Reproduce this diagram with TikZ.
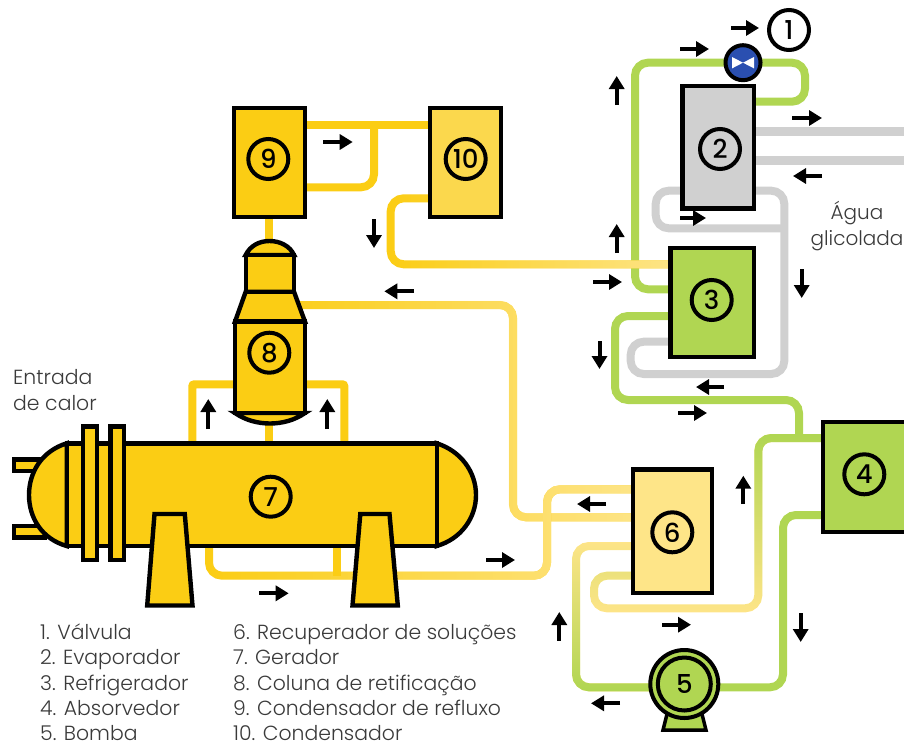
\documentclass[tikz,border=0pt]{standalone}
\usepackage{fontspec}
\setmainfont{Poppins}
\newfontfamily\thinfont{Poppins Light}
\newfontfamily\numfont{Poppins Medium}
\usetikzlibrary{arrows.meta, positioning, calc, fadings}
\definecolor{yelA}{HTML}{FBCD14}
\definecolor{yelB}{HTML}{FBD84D}
\definecolor{yelC}{HTML}{FEE588}
\definecolor{leaf}{HTML}{B0D652}
\definecolor{ash}{HTML}{D0D0D0}
\definecolor{valveblue}{HTML}{2A4FB0}
\definecolor{inkgrey}{HTML}{3A3A3A}
\pgfdeclarelayer{pipes}
\pgfsetlayers{pipes,main}
\tikzset{
  unit/.style={draw=black, line width=4.4pt, inner sep=0pt, outer sep=0pt},
  shell/.style={draw=black, line width=4.4pt, fill=yelA, line join=miter},
  num/.style={circle, draw=black, line width=4pt, minimum size=40pt, inner sep=0pt,
    outer sep=0pt, font=\numfont\fontsize{26}{26}\selectfont},
  pipe/.style={line width=8pt, rounded corners=13pt},
  flow/.style={-{Triangle[length=13pt,width=15pt]}, line width=4pt, black},
  legend/.style={anchor=base west, inner sep=0pt, text=inkgrey, text depth=0pt,
    font=\thinfont\fontsize{20.4}{26}\selectfont},
}

\begin{document}
\begin{tikzpicture}[x=1pt, y=-1pt]
  \useasboundingbox (0,0) rectangle (904,744);

  % Boxes
  \node[unit, fill=ash, minimum width=71.4pt, minimum height=122.7pt] (box2) at (718,147.3) {};
  \node[unit, fill=leaf, minimum width=83.4pt, minimum height=109pt] (box3) at (712,302.5) {};
  \node[unit, fill=leaf, minimum width=97pt, minimum height=110pt] (box4) at (871.5,477) {};
  \node[unit, fill=yelC, minimum width=79pt, minimum height=123.3pt] (box6) at (672.5,531.3) {};
  \node[unit, fill=yelA, minimum width=71pt, minimum height=109pt] (box9) at (269.5,162.5) {};
  \node[unit, fill=yelB, minimum width=71pt, minimum height=109pt] (box10) at (465.5,162.5) {};

  % Valve
  \node[circle, draw=black, line width=4pt, fill=valveblue, minimum size=35pt,
    inner sep=0pt, outer sep=0pt] (valve) at (743,62.7) {};
  \fill[white] (732,57) -- (743,62.7) -- (754,57) -- (754,68.4) -- (743,62.7) -- (732,68.4) -- cycle;

  % Pump
  \draw[line width=3.5pt, fill=leaf, line join=miter] (667,714) -- (702,714) -- (706,730) -- (663,730) -- cycle;
  \node[circle, draw=black, line width=4pt, fill=leaf, minimum size=68pt,
    inner sep=0pt, outer sep=0pt] (pump) at (684.3,684) {};

  % Generator
  \draw[shell] (14,459.3) rectangle (45,470.7);
  \draw[shell] (14,526) rectangle (45,537.3);
  \draw[shell] (66.7,443.3) .. controls (42,451) and (29,472) .. (29,495)
    .. controls (29,518) and (42,539) .. (66.7,546) -- cycle;
  \draw[shell] (436.7,443.3) .. controls (461,451) and (476,472) .. (476,495)
    .. controls (476,518) and (461,539) .. (436.7,546) -- cycle;
  \node[unit, fill=yelA, minimum width=370pt, minimum height=102.7pt] (gen) at (251.7,494.7) {};
  \draw[shell] (83.2,426.5) rectangle (96.8,560.2);
  \draw[shell] (110.5,426.5) rectangle (124.2,560.2);
  \draw[shell] (154.5,514) -- (184.8,514) -- (192.5,605.5) -- (147.2,605.5) -- cycle;
  \draw[shell] (360.3,514) -- (389.5,514) -- (397.8,605.5) -- (352.5,605.5) -- cycle;

  % Column
  \draw[shell] (245.7,255) .. controls (250,246) and (259,241) .. (269.5,241)
    .. controls (280,241) and (290,246) .. (294,255) -- cycle;
  \draw[shell] (245.7,255) rectangle (294,291.7);
  \draw[shell] (245.7,291.7) -- (294,291.7) -- (305,321.7) -- (235,321.7) -- cycle;
  \draw[shell] (235,413) .. controls (255,427) and (285,427) .. (305,413) -- cycle;
  \node[unit, fill=yelA, minimum width=70pt, minimum height=91.3pt] (col8) at (270,367.3) {};

  % Pipes
  \begin{pgfonlayer}{pipes}
    \draw[pipe, leaf] (box3.west |- 0,289.3) -| (635,62.7) -- (valve.center);
    \draw[pipe, leaf] (valve.center) -| (805,101.7) -- (box2.east |- 0,101.7);
    \draw[pipe, leaf] (box3.west |- 0,316) -| (615,400) -| (799,438);
    \draw[pipe, ash] (box2.west |- 0,190.7) -| (655.7,228.3) -- (784.3,228.3);
    \draw[pipe, ash] (box2.east |- 0,190.7) -| (784.3,374) -| (630.7,341.7) -- (box3.west |- 0,341.7);
    \draw[line width=8.6pt, ash] (box2.east |- 0,131.7) -- (910,131.7);
    \draw[line width=8.6pt, ash] (box2.east |- 0,160.7) -- (910,160.7);
    \draw[pipe, leaf] (box4.west |- 0,515) -| (783,687.3) -- (pump.east |- 0,687.3);

    \draw[pipe, yelC] (box6.west |- 0,546) -| (576,687.3) -- (pump.center |- 0,687.3);
    \draw[pipe, leaf, path fading=north] (box6.west |- 0,546) -| (576,687.3) -- (pump.center |- 0,687.3);
    \draw[pipe, yelC] (box6.west |- 0,575.7) -| (594,608.3) -| (758.3,438) -- (box4.west |- 0,438);
    \draw[pipe, leaf, path fading=south] (box6.west |- 0,575.7) -| (594,608.3) -| (758.3,438) -- (box4.west |- 0,438);

    \draw[pipe, yelA] (box10.west |- 0,198.3) -| (390.7,264.3) -- (box3.west |- 0,264.3);
    \draw[pipe, yelC, path fading=west] (box10.west |- 0,198.3) -| (390.7,264.3) -- (box3.west |- 0,264.3);
    \draw[pipe, yelA] (col8.center |- 0,305) -| (513,517.3) -- (box6.west |- 0,517.3);
    \draw[pipe, yelC, path fading=west] (col8.center |- 0,305) -| (513,517.3) -- (box6.west |- 0,517.3);
    \draw[pipe, yelA] (gen.south -| 209,0) |- (547,575.7) |- (box6.west |- 0,489.3);
    \draw[pipe, yelC, path fading=west] (gen.south -| 209,0) |- (547,575.7) |- (box6.west |- 0,489.3);
    \draw[line width=8pt, yelA] (gen.south -| 336.7,0) -- (336.7,575.7);

    \draw[pipe, yelA] (box9.east |- 0,125) -- (box10.west |- 0,125);
    \draw[pipe, yelA] (box9.east |- 0,187.3) -| (374,125);
    \draw[line width=8pt, yelA] (box9.south -| 268.5,0) -- (268.5,245);
    \draw[line width=8pt, yelA] (gen.north -| 268.5,0) -- (col8.south -| 268.5,0);
    \draw[line width=8pt, yelA, rounded corners=2pt] (gen.north -| 192.3,0) |- (col8.west |- 0,384.3);
    \draw[line width=8pt, yelA, rounded corners=2pt] (gen.north -| 344.3,0) |- (col8.east |- 0,384.3);
  \end{pgfonlayer}

  % Numbers
  \node[num] (num1) at (789,30) {1};
  \node[num] (num2) at (720,149) {2};
  \node[num] (num3) at (711.7,300) {3};
  \node[num] (num4) at (864.3,474.3) {4};
  \node[num, minimum size=53pt] (num5) at (pump) {5};
  \node[num] (num6) at (672.3,532.3) {6};
  \node[num] (num7) at (270.7,496.7) {7};
  \node[num] (num8) at (269.3,352.7) {8};
  \node[num] (num9) at (268.3,159) {9};
  \node[num] (num10) at (465.7,159) {10};

  % Flow arrows
  \draw[flow] (731,28) -- (759,28);
  \draw[flow] (680,49) -- (709,49);
  \draw[flow] (616.7,105) -- (616.7,76);
  \draw[flow] (792,118) -- (822,118);
  \draw[flow] (822,176) -- (793,176);
  \draw[flow] (680,218) -- (706,218);
  \draw[flow] (616.7,253) -- (616.7,224);
  \draw[flow] (593,282) -- (622,282);
  \draw[flow] (801.7,269) -- (801.7,298);
  \draw[flow] (724,387) -- (696,387);
  \draw[flow] (599.5,341) -- (599.5,369);
  \draw[flow] (678,413) -- (707,413);
  \draw[flow] (743.3,504) -- (743.3,475.7);
  \draw[flow] (800.7,613) -- (800.7,642);
  \draw[flow] (606,504) -- (577,504);
  \draw[flow] (486,560) -- (515,560);
  \draw[flow] (662,624.7) -- (691,624.7);
  \draw[flow] (559.3,640.7) -- (559.3,612);
  \draw[flow] (620,703.3) -- (591,703.3);
  \draw[flow] (208.3,429) -- (208.3,399);
  \draw[flow] (327.3,429) -- (327.3,399);
  \draw[flow] (414,291.3) -- (384.3,291.3);
  \draw[flow] (259,593.3) -- (288.7,593.3);
  \draw[flow] (323,142) -- (352.7,142);
  \draw[flow] (374,219) -- (374,248);

  % Labels
  \node[legend, align=left, text depth=] (heatin) at (13,410) {Entrada\\de calor};
  \node[legend, align=center, anchor=base, text depth=, font=\thinfont\fontsize{20}{26}\selectfont] (glycol) at (857,245) {Água\\glicolada};
  \node[legend] (leg1) at (40,639) {1. Válvula};
  \node[legend] (leg2) at (40,664.5) {2. Evaporador};
  \node[legend] (leg3) at (40,690) {3. Refrigerador};
  \node[legend] (leg4) at (40,715) {4. Absorvedor};
  \node[legend] (leg5) at (40,740) {5. Bomba};
  \node[legend] (leg6) at (233,639) {6. Recuperador de soluções};
  \node[legend] (leg7) at (233,664.5) {7. Gerador};
  \node[legend] (leg8) at (233,690) {8. Coluna de retificação};
  \node[legend] (leg9) at (233,715) {9. Condensador de refluxo};
  \node[legend] (leg10) at (233,740) {10. Condensador};
\end{tikzpicture}
\end{document}
